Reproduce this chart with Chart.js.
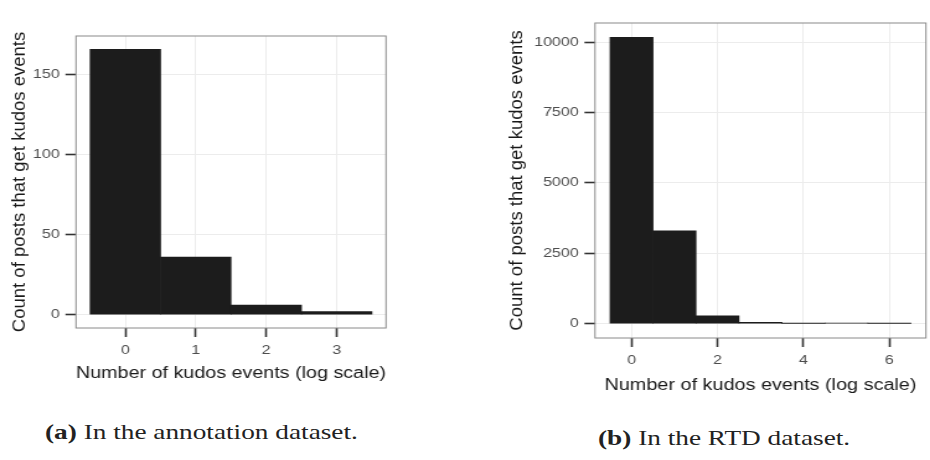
<!DOCTYPE html>
<html>
<head>
<meta charset="utf-8">
<script src="https://cdn.jsdelivr.net/npm/chart.js@4"></script>
<style>
  html, body { margin: 0; padding: 0; background: #fff; width: 930px; height: 460px; overflow: hidden; }
  .panel { position: absolute; top: 0; transform: scaleX(1.24); transform-origin: 0 0; }
  .caption { position: absolute; font-family: "Liberation Serif", "Times New Roman", serif; font-size: 22px; line-height: 22px; color: #222; white-space: nowrap; transform: scaleX(1.24); transform-origin: 0 0; }
</style>
</head>
<body>
<div class="panel" style="left:0px"><canvas id="chartA" width="340" height="400"></canvas></div>
<div class="panel" style="left:470px"><canvas id="chartB" width="370" height="400"></canvas></div>
<div class="caption" style="left:45px;top:421px"><b>(a)</b> In the annotation dataset.</div>
<div class="caption" style="left:598px;top:427px"><b>(b)</b> In the RTD dataset.</div>
<script>
// annotation dataset
const binsA = [0, 1, 2, 3];
const countsA = [166, 36, 6, 2];
const xTicksA = [0, 1, 2, 3];
const yTicksA = [0, 50, 100, 150];

// RTD dataset
const binsB = [0, 1, 2, 3, 4, 5, 6];
const countsB = [10170, 3300, 280, 45, 8, 25, 8];
const xTicksB = [0, 2, 4, 6];
const yTicksB = [0, 2500, 5000, 7500, 10000];

const xTitle = "Number of kudos events (log scale)";
const yTitle = "Count of posts that get kudos events";

const STRETCH = 1.24; // the panels are drawn a bit wider than tall, like the scan

Chart.defaults.font.family = "'Liberation Sans', Arial, sans-serif";
Chart.defaults.animation = false;

// grey panel border like ggplot's theme_bw
const framePlugin = {
  id: "frame",
  afterDraw(chart) {
    const { ctx, chartArea: a } = chart;
    ctx.save();
    ctx.strokeStyle = "#8a8a8a";
    ctx.lineWidth = 1;
    ctx.strokeRect(a.left, a.top, a.right - a.left, a.bottom - a.top);
    ctx.restore();
  }
};

// y title drawn without the horizontal stretch
function yTitlePlugin(x) {
  return {
    id: "yTitle",
    afterDraw(chart) {
      const { ctx, chartArea: a } = chart;
      ctx.save();
      ctx.translate(x, (a.top + a.bottom) / 2);
      ctx.scale(1 / STRETCH, 1);
      ctx.rotate(-Math.PI / 2);
      ctx.font = "18.5px 'Liberation Sans', Arial, sans-serif";
      ctx.fillStyle = "#1a1a1a";
      ctx.textAlign = "center";
      ctx.textBaseline = "middle";
      ctx.fillText(yTitle, 0, 0);
      ctx.restore();
    }
  };
}

function makeChart(id, bins, counts, xTicks, yTicks, box) {
  const ctx = document.getElementById(id).getContext("2d");
  return new Chart(ctx, {
    type: "bar",
    data: {
      datasets: [{
        data: bins.map((b, i) => ({ x: b, y: counts[i] })),
        backgroundColor: "#1c1c1c",
        borderWidth: 0,
        barPercentage: 1,
        categoryPercentage: 1
      }]
    },
    plugins: [framePlugin, yTitlePlugin(box.yTitleX)],
    options: {
      responsive: false,
      layout: { padding: { left: 0, top: box.top, right: box.right, bottom: 0 } },
      plugins: { legend: { display: false }, tooltip: { enabled: false } },
      scales: {
        x: {
          type: "linear",
          min: box.xMin,
          max: box.xMax,
          offset: false,
          afterBuildTicks: s => { s.ticks = xTicks.map(v => ({ value: v })); },
          afterFit: s => { s.height = box.xHeight; },
          border: { display: false },
          grid: { offset: false, color: "#ececec", tickColor: "#333", tickWidth: 1.6, tickLength: 9 },
          ticks: { color: "#4d4d4d", font: { size: 13 }, padding: 6, maxRotation: 0, callback: v => String(v) },
          title: { display: true, text: xTitle, color: "#1a1a1a", font: { size: 16 }, padding: { top: 0, bottom: box.xTitlePad } }
        },
        y: {
          min: box.yMin,
          max: box.yMax,
          afterBuildTicks: s => { s.ticks = yTicks.map(v => ({ value: v })); },
          afterFit: s => { s.width = box.yWidth; },
          border: { display: false },
          grid: { color: "#ececec", tickColor: "#333", tickWidth: 1.6, tickLength: 8.5 },
          ticks: { color: "#4d4d4d", font: { size: 13 }, padding: 4.5, callback: v => String(v) },
          title: { display: false }
        }
      }
    }
  });
}

makeChart("chartA", binsA, countsA, xTicksA, yTicksA, {
  xMin: -0.7, xMax: 3.7, yMin: -8.3, yMax: 174.3,
  top: 36, right: 28.7, xHeight: 72, yWidth: 61.3, xTitlePad: 17, yTitleX: 15.7
});

makeChart("chartB", binsB, countsB, xTicksB, yTicksB, {
  xMin: -0.85, xMax: 6.85, yMin: -508, yMax: 10678,
  top: 23, right: 2.3, xHeight: 62, yWidth: 100.8, xTitlePad: 5, yTitleX: 37.5
});
</script>
</body>
</html>
